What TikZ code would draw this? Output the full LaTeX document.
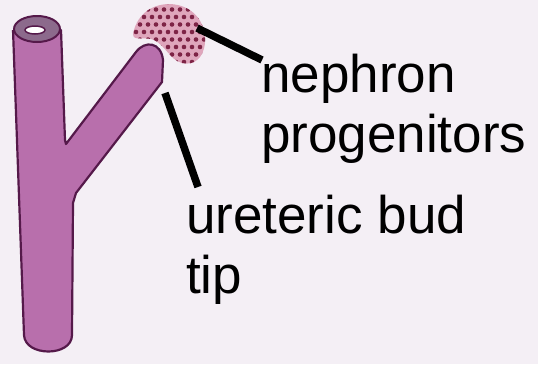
\documentclass[tikz,border=0pt]{standalone}
\usepackage{fontspec}
\setmainfont{Liberation Sans}
\usepackage{xcolor}
\definecolor{budFill}{HTML}{B86FAC}
\definecolor{budEdge}{HTML}{55194A}
\definecolor{budRim}{HTML}{8C6A8C}
\definecolor{capFill}{HTML}{DFA6BC}
\definecolor{capDot}{HTML}{7E2446}
\definecolor{paperBg}{HTML}{F4EFF5}
\usetikzlibrary{calc}
\tikzset{
    bud/.style={
        draw=budEdge,
        fill=budFill,
        line width=2.2pt,
        line join=round
    },
    pointer/.style={
        line width=7.5bp,
        color=black
    },
    caption/.style={
        font=\fontsize{53bp}{53bp}\selectfont,
        anchor=base west,
        inner sep=0pt
    }
}

\begin{document}
\begin{tikzpicture}[x=1bp, y=-1bp]
    % canvas
    \fill[paperBg] (0,0) rectangle (538,364);
    \useasboundingbox (0,0) rectangle (538,364);

    % ureteric bud: trunk and side branch
    \draw[bud] (13,30) -- (61,30) -- (65,140) -- (66,144)
        -- (136,52) .. controls (145,40) and (161,42) .. (163,60)
        -- (162,82) -- (76,193) -- (73,203) -- (72,335)
        .. controls (72,357) and (25,357) .. (24,335) -- (13,30);

    % open end of the tube
    \draw[budEdge, fill=budRim, line width=2pt] (37,29) ellipse (23 and 13);
    \draw[budEdge, fill=white, line width=1.5pt] (35,30) ellipse (10 and 4);

    % cap of progenitor cells
    \begin{scope}
        \clip (133,34) .. controls (136,18) and (148,4) .. (170,4)
            .. controls (193,5) and (206,22) .. (205,42)
            .. controls (204,58) and (194,66) .. (182,63)
            .. controls (170,60) and (166,46) .. (154,40)
            .. controls (145,36) and (133,42) .. (133,34);
        \fill[capFill] (120,0) rectangle (215,75);
        \foreach \i in {0,...,11}
            \foreach \j in {0,...,9}
                \fill[capDot] ({128+8*\i+mod(\j,2)*4},{2+7.5*\j}) circle (2.3);
    \end{scope}
    \coordinate (capEdge) at (197,28);
    \coordinate (tipEdge) at (165,93);

    % labels
    \node[caption] (nephron) at (261,92) {nephron};
    \node[caption] (progen) at (261,152) {progenitors};
    \node[caption] (ureteric) at (186,233) {ureteric bud};
    \node[caption] (tip) at (186,293) {tip};

    % pointers
    \coordinate (capEnd) at (262,60);
    \coordinate (tipEnd) at (198,187);
    \draw[pointer] (capEdge) -- (capEnd);
    \draw[pointer] (tipEdge) -- (tipEnd);
\end{tikzpicture}
\end{document}
